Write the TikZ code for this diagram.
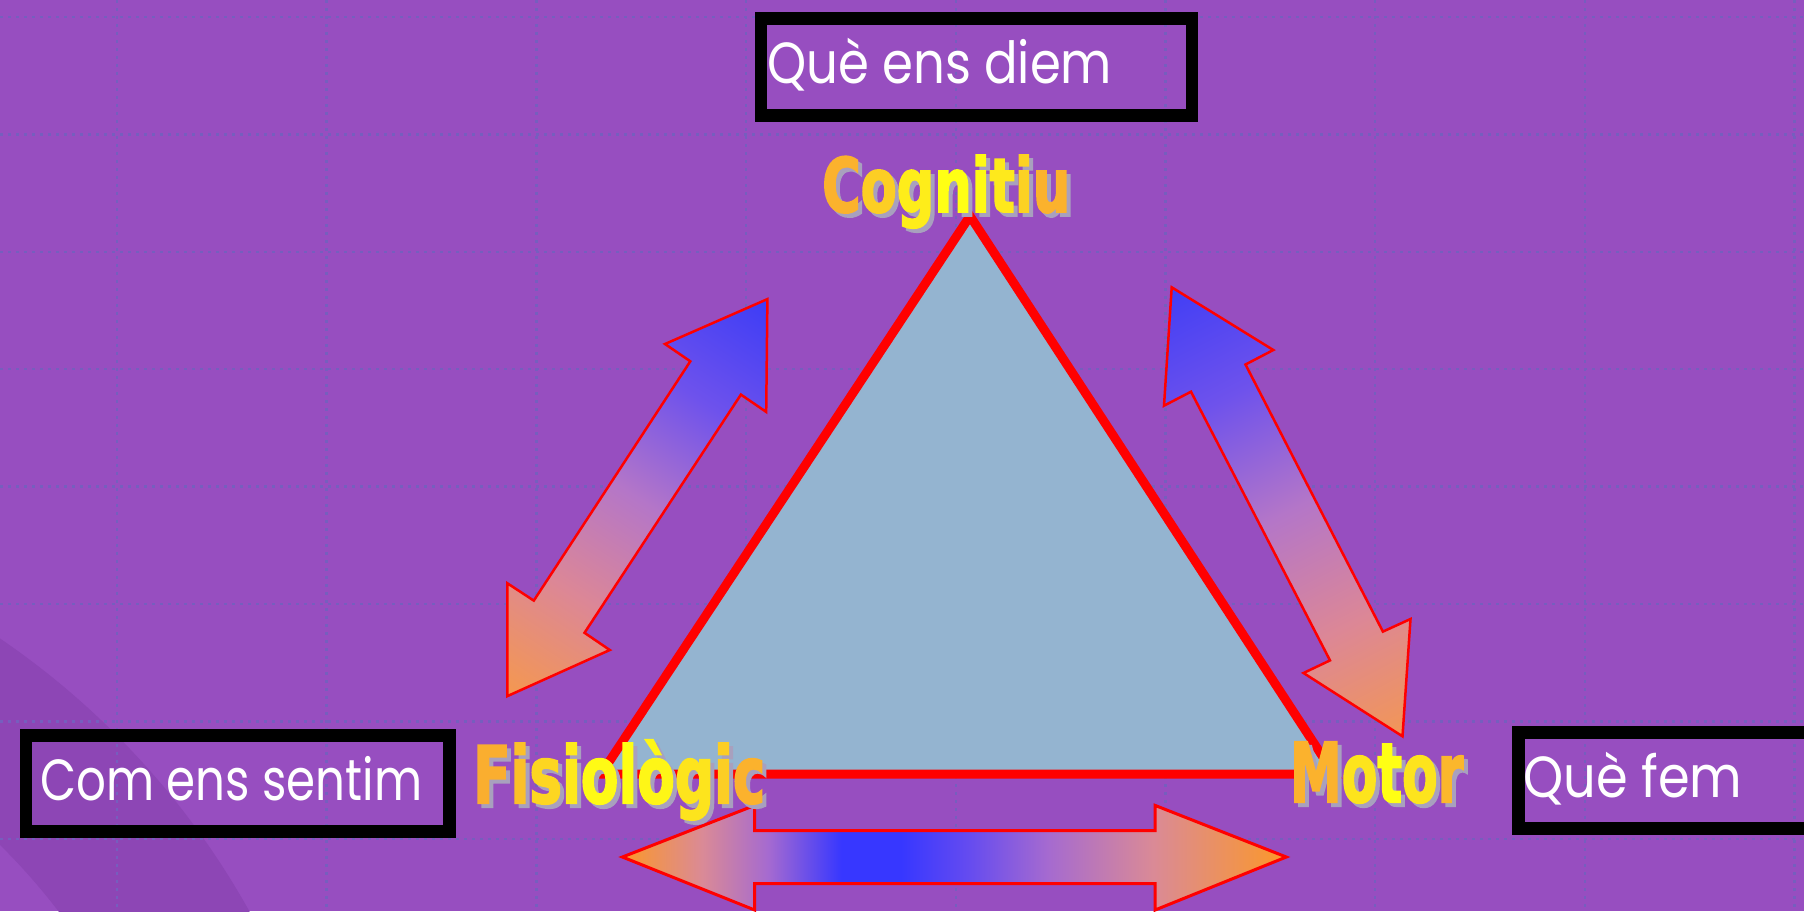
\documentclass[tikz,border=0pt]{standalone}
\usepackage{fontspec}
\setmainfont{Poppins}
\newfontfamily\labfont{DejaVu Sans Condensed}[BoldFeatures={FakeBold=2.5}]
\usepackage{graphicx}

\definecolor{bgc}{RGB}{151,78,192}
\definecolor{ringc}{RGB}{141,70,181}
\definecolor{gridc}{RGB}{118,94,190}
\definecolor{trifill}{RGB}{148,180,208}
\definecolor{redl}{RGB}{255,0,0}
\definecolor{labO}{RGB}{250,165,50}
\definecolor{labY}{RGB}{255,255,20}
\definecolor{shadowc}{RGB}{168,160,190}
\definecolor{arO}{RGB}{245,152,78}
\definecolor{arS}{RGB}{220,135,150}
\definecolor{arM}{RGB}{180,118,200}
\definecolor{arV}{RGB}{110,82,236}
\definecolor{arB}{RGB}{60,60,246}
\definecolor{bO}{RGB}{252,152,40}
\definecolor{bS}{RGB}{218,138,150}
\definecolor{bL}{RGB}{165,106,208}
\definecolor{bB}{RGB}{55,55,255}
\definecolor{bV}{RGB}{100,75,240}

\pgfdeclareverticalshading{diagsh}{100bp}{color(0bp)=(arO); color(15bp)=(arO); color(33bp)=(arS); color(50bp)=(arM); color(67bp)=(arV); color(85bp)=(arB); color(100bp)=(arB)}
\pgfdeclarehorizontalshading{botsh}{100bp}{color(0bp)=(bO); color(25bp)=(bO); color(31bp)=(bS); color(36bp)=(bL); color(41.5bp)=(bB); color(46bp)=(bB); color(51bp)=(bV); color(57bp)=(bL); color(65bp)=(bS); color(75bp)=(bO); color(100bp)=(bO)}

\newcommand{\lc}[2]{\textcolor{labY!#1!labO}{#2}}
\newcommand{\fitw}[2]{\resizebox{#1}{\height}{#2}}

\tikzset{
  gridline/.style={gridc, line width=2.5pt, dash pattern=on 2.5pt off 5.5pt},
  tribox/.style={draw=redl, line width=9pt, fill=trifill, line join=miter},
  arrowshape/.style={draw=redl, line width=2.5pt, line join=miter},
  boxs/.style={draw=black, line width=12.5pt, inner sep=0pt, anchor=north west},
  boxtxt/.style={text=white, font=\fontsize{58}{58}\selectfont, inner sep=0pt, anchor=base west},
  lab/.style={inner sep=0pt, anchor=base west},
}

\begin{document}
\begin{tikzpicture}[x=1pt,y=1pt]
\fill[bgc] (0,0) rectangle (1804,-911);
\useasboundingbox (0,0) rectangle (1804,-911);
\clip (0,0) rectangle (1804,-911);

% darker ring, lower left
\fill[ringc, even odd rule] (-450,-1300) circle (800) (-450,-1300) circle (640);

% dotted grid
\foreach \gx in {117,326.7,536.4,746.1,955.8,1165.5,1375.2,1584.9,1794.6}
  \draw[gridline] (\gx,0) -- (\gx,-911);
\foreach \gy in {17,134.4,251.8,369.2,486.6,604,721.4,838.8}
  \draw[gridline] (0,-\gy) -- (1804,-\gy);

% triangle
\coordinate (tc) at (970,-216);
\coordinate (tr) at (1334,-774);
\coordinate (tl) at (601,-774);
\draw[tribox] (tc) -- (tr) -- (tl) -- cycle;

% left diagonal double arrow
\shade[shading=diagsh, shading angle=-33, arrowshape]
  (767.4,-299.1) -- (766.2,-411.9) -- (740.9,-394.6) -- (584.5,-632.8)
  -- (609.8,-650) -- (507.4,-696.1) -- (507.4,-583.3) -- (533.8,-600.6)
  -- (690.3,-361.3) -- (665,-344) -- cycle;

% right diagonal double arrow
\shade[shading=diagsh, shading angle=27, arrowshape]
  (1171.7,-287.3) -- (1273.3,-350) -- (1245.5,-364.5) -- (1382.9,-631.6)
  -- (1410.5,-619) -- (1402.5,-736.3) -- (1303.5,-673) -- (1330,-660.4)
  -- (1191,-391.7) -- (1164,-405.7) -- cycle;

% bottom horizontal double arrow
\shade[shading=botsh, arrowshape, line width=3pt]
  (622.4,-857) -- (754.7,-805.4) -- (754.7,-830.7) -- (1155.1,-830.7)
  -- (1155.1,-805.4) -- (1286.3,-857) -- (1155.1,-910) -- (1155.1,-883.6)
  -- (754.7,-883.6) -- (754.7,-910) -- cycle;

% text boxes
\node[boxs, minimum width=431pt, minimum height=97pt] (diem) at (754.5,-12) {};
\node[boxtxt] (diemt) at (767,-83) {\fitw{345pt}{Què ens diem}};
\node[boxs, minimum width=423.5pt, minimum height=96pt] (sent) at (19.5,-729) {};
\node[boxtxt] (sentt) at (40,-800) {\fitw{382pt}{Com ens sentim}};
\node[boxs, minimum width=400pt, minimum height=96pt] (fem) at (1512,-726) {};
\node[boxtxt] (femt) at (1523,-797) {\fitw{219pt}{Què fem}};

% vertex labels (shadow then gradient text)
\node[lab, text=shadowc] (cogsh) at (826,-216) {\resizebox{248pt}{57pt}{\labfont\bfseries Cognitiu}};
\node[lab] (cog) at (822,-212) {\resizebox{248pt}{57pt}{\labfont\bfseries \lc{15}{C}\lc{45}{o}\lc{80}{g}\lc{100}{n}\lc{95}{i}\lc{75}{t}\lc{50}{i}\lc{15}{u}}};

\node[lab, text=shadowc] (fissh) at (477,-807) {\resizebox{292pt}{60pt}{\labfont\bfseries Fisiol\smash{ò}gic}};
\node[lab] (fis) at (473,-803) {\resizebox{292pt}{60pt}{\labfont\bfseries \lc{10}{F}\lc{30}{i}\lc{55}{s}\lc{75}{i}\lc{95}{o}\lc{100}{l}\smash{\lc{90}{ò}}\lc{70}{g}\lc{45}{i}\lc{15}{c}}};

\node[lab, text=shadowc] (motsh) at (1294,-806) {\resizebox{173pt}{60pt}{\labfont\bfseries Motor}};
\node[lab] (mot) at (1290,-802) {\resizebox{173pt}{60pt}{\labfont\bfseries \lc{15}{M}\lc{70}{o}\lc{100}{t}\lc{70}{o}\lc{20}{r}}};
\end{tikzpicture}
\end{document}
